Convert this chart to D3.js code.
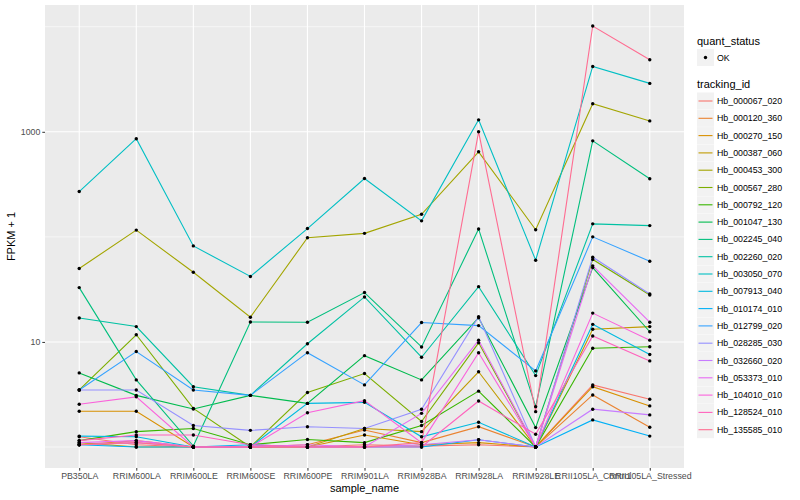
<!DOCTYPE html>
<html>
<head>
<meta charset="utf-8">
<script src="https://cdn.jsdelivr.net/npm/d3@7"></script>
<style>
  body { margin: 0; background: #fff; }
  text { font-family: "Liberation Sans", Arial, Helvetica, sans-serif; }
</style>
</head>
<body>
<div id="chart"></div>
<script>
// samples on the x axis
var samples = ["PB350LA", "RRIM600LA", "RRIM600LE", "RRIM600SE", "RRIM600PE", "RRIM901LA",
  "RRIM928BA", "RRIM928LA", "RRIM928LE", "RRII105LA_Control", "RRII105LA_Stressed"];

var trackingIds = ["Hb_000067_020", "Hb_000120_360", "Hb_000270_150", "Hb_000387_060", "Hb_000453_300",
  "Hb_000567_280", "Hb_000792_120", "Hb_001047_130", "Hb_002245_040", "Hb_002260_020",
  "Hb_003050_070", "Hb_007913_040", "Hb_010174_010", "Hb_012799_020", "Hb_028285_030",
  "Hb_032660_020", "Hb_053373_010", "Hb_104010_010", "Hb_128524_010", "Hb_135585_010"];

// FPKM + 1, one row per tracking_id, in sample order
var fpkm = [
  [1.25, 1.05, 1.0, 1.0, 1.0, 1.05, 1.02, 1.05, 1.0, 3.9, 2.85],
  [1.05, 1.15, 1.0, 1.0, 1.05, 1.45, 1.1, 1.56, 1.0, 3.13, 1.54],
  [2.19, 2.19, 1.0, 1.0, 1.0, 1.3, 1.05, 1.1, 1.0, 3.75, 2.46],
  [1.1, 1.0, 1.0, 1.0, 1.0, 1.5, 1.4, 5.2, 1.0, 13.2, 14],
  [50, 116, 46, 17.2, 98, 108, 164, 645, 117, 1850, 1270],
  [3.49, 11.7, 2.33, 1.0, 3.3, 5.0, 1.75, 9.8, 1.0, 61, 28],
  [1.15, 1.4, 1.5, 1.05, 1.18, 1.1, 1.6, 3.4, 1.0, 8.7, 9.0],
  [5.07, 3.1, 2.3, 3.1, 2.6, 7.4, 4.35, 17, 1.53, 51, 12.5],
  [32.9, 4.35, 1.02, 15.5, 15.4, 29.5, 8.96, 119, 2.42, 820, 357],
  [16.9, 14, 3.75, 3.1, 9.6, 26.8, 7.15, 33.6, 4.78, 133, 128],
  [270, 860, 82, 42, 120, 359, 142, 1300, 60, 4190, 2890],
  [1.27, 1.25, 1.0, 1.0, 2.6, 2.66, 1.25, 1.72, 1.0, 14.7, 7.6],
  [1.05, 1.0, 1.0, 1.05, 1.0, 1.0, 1.0, 1.17, 1.0, 1.81, 1.27],
  [3.49, 8.1, 3.49, 3.1, 7.9, 3.9, 15.3, 14.3, 5.3, 100, 58.6],
  [3.49, 3.49, 1.6, 1.44, 1.56, 1.5, 2.29, 17.4, 1.0, 64, 28.6],
  [1.05, 1.1, 1.0, 1.0, 1.0, 1.0, 1.05, 1.17, 1.0, 2.29, 2.02],
  [1.1, 1.15, 1.0, 1.0, 1.05, 1.0, 2.09, 10.4, 1.0, 53, 15.4],
  [2.55, 3.0, 1.0, 1.0, 2.12, 2.76, 1.1, 7.9, 1.0, 18.8, 10.4],
  [1.15, 1.3, 1.3, 1.05, 1.0, 1.0, 1.0, 2.74, 1.32, 11.4, 6.6],
  [1.05, 1.1, 1.0, 1.0, 1.0, 1.0, 1.1, 1000, 2.17, 10160, 4850]
];

var colors = ["#F8766D", "#EA8331", "#D89000", "#C09B00", "#A3A500", "#7CAE00", "#39B600", "#00BB4E",
  "#00BF7D", "#00C1A3", "#00BFC4", "#00BAE0", "#00B0F6", "#35A2FF", "#9590FF", "#C77CFF",
  "#E76BF3", "#FA62DB", "#FF62BC", "#FF6C91"];

var yMajor = [10, 1000];
var yMinor = [1, 100, 10000];

var W = 800, H = 500;
var panel = {left: 45, right: 684, top: 5, bottom: 468};

var svg = d3.select("#chart").append("svg")
  .attr("width", W).attr("height", H);

var x = d3.scalePoint()
  .domain(samples)
  .range([panel.left, panel.right])
  .padding(0.6);

var y = d3.scaleLog()
  .domain([Math.pow(10, -0.2), Math.pow(10, 4.207)])
  .range([panel.bottom, panel.top]);

// panel background
svg.append("rect")
  .attr("x", panel.left).attr("y", panel.top)
  .attr("width", panel.right - panel.left).attr("height", panel.bottom - panel.top)
  .attr("fill", "#EBEBEB");

// grid
var grid = svg.append("g");
grid.selectAll(".minor").data(yMinor).enter().append("line")
  .attr("x1", panel.left).attr("x2", panel.right)
  .attr("y1", d => y(d)).attr("y2", d => y(d))
  .attr("stroke", "#fff").attr("stroke-width", 0.6);
grid.selectAll(".major").data(yMajor).enter().append("line")
  .attr("x1", panel.left).attr("x2", panel.right)
  .attr("y1", d => y(d)).attr("y2", d => y(d))
  .attr("stroke", "#fff").attr("stroke-width", 1.1);
grid.selectAll(".vx").data(samples).enter().append("line")
  .attr("x1", d => x(d)).attr("x2", d => x(d))
  .attr("y1", panel.top).attr("y2", panel.bottom)
  .attr("stroke", "#fff").attr("stroke-width", 1.1);

// lines
var line = d3.line()
  .x((d, i) => x(samples[i]))
  .y(d => y(d));

svg.append("g").selectAll("path")
  .data(fpkm)
  .enter().append("path")
    .attr("d", d => line(d))
    .attr("fill", "none")
    .attr("stroke", (d, i) => colors[i])
    .attr("stroke-width", 1.1);

// points
var pts = [];
fpkm.forEach(row => row.forEach((v, i) => pts.push({s: samples[i], v: v})));
svg.append("g").selectAll("circle")
  .data(pts)
  .enter().append("circle")
    .attr("cx", d => x(d.s))
    .attr("cy", d => y(d.v))
    .attr("r", 1.7)
    .attr("fill", "black");

// axes
var xAxis = svg.append("g")
  .attr("transform", "translate(0," + panel.bottom + ")")
  .call(d3.axisBottom(x).tickSize(2.7).tickPadding(2));
var yAxis = svg.append("g")
  .attr("transform", "translate(" + panel.left + ",0)")
  .call(d3.axisLeft(y).tickValues(yMajor).tickFormat(d3.format("d")).tickSize(2.7).tickPadding(2));
[xAxis, yAxis].forEach(a => {
  a.select(".domain").remove();
  a.selectAll("line").attr("stroke", "#333");
  a.selectAll("text").attr("fill", "#4D4D4D").style("font-size", "8.8px")
    .style("font-family", "'Liberation Sans', Arial, sans-serif");
});

// axis titles
svg.append("text")
  .attr("x", (panel.left + panel.right) / 2).attr("y", 492)
  .attr("text-anchor", "middle").style("font-size", "11px")
  .text("sample_name");
svg.append("text")
  .attr("transform", "translate(15," + ((panel.top + panel.bottom) / 2) + ") rotate(-90)")
  .attr("text-anchor", "middle").style("font-size", "11px")
  .text("FPKM + 1");

// legend
var lg = svg.append("g").attr("transform", "translate(697,0)");
lg.append("text").attr("x", 0).attr("y", 45).style("font-size", "11px").text("quant_status");
lg.append("rect").attr("x", 0).attr("y", 49).attr("width", 17).attr("height", 17).attr("fill", "#F2F2F2");
lg.append("circle").attr("cx", 8.5).attr("cy", 57.5).attr("r", 1.7).attr("fill", "black");
lg.append("text").attr("x", 20).attr("y", 60.5).style("font-size", "8.8px").text("OK");

lg.append("text").attr("x", 0).attr("y", 88).style("font-size", "11px").text("tracking_id");
var keys = lg.selectAll(".key").data(trackingIds).enter().append("g")
  .attr("transform", (d, i) => "translate(0," + (92.5 + i * 17.3) + ")");
keys.append("rect").attr("width", 17).attr("height", 17).attr("fill", "#F2F2F2");
keys.append("line").attr("x1", 1.5).attr("x2", 15.5).attr("y1", 8.5).attr("y2", 8.5)
  .attr("stroke", (d, i) => colors[i]).attr("stroke-width", 1.1);
keys.append("text").attr("x", 20).attr("y", 11.6).style("font-size", "8.8px").text(d => d);
</script>
</body>
</html>
